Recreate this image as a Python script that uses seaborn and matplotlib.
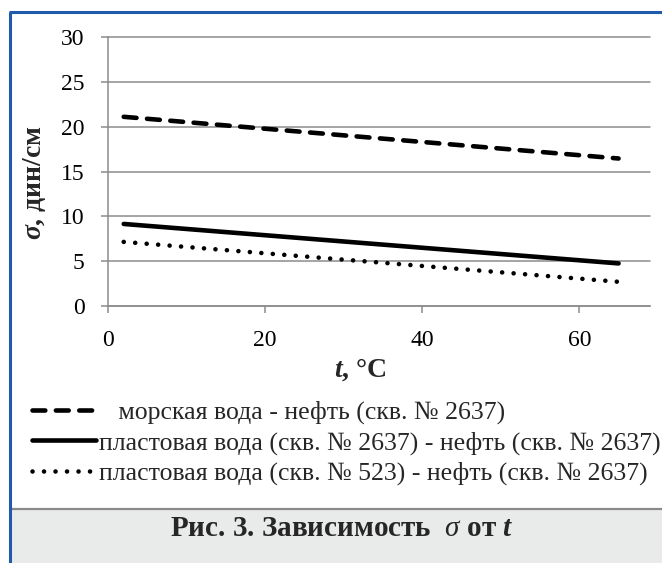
import matplotlib
matplotlib.use("Agg")
import matplotlib.pyplot as plt
import seaborn as sns
import pandas as pd
from matplotlib.lines import Line2D
from matplotlib.patches import Rectangle

# ---- data ----
t_values = [2, 65]
sea_oil = [21.1, 16.45]
form2637_oil = [9.15, 4.75]
form523_oil = [7.15, 2.7]
series_labels = [
    "   морская вода - нефть (скв. № 2637)",
    "пластовая вода (скв. № 2637) - нефть (скв. № 2637)",
    "пластовая вода (скв. № 523) - нефть (скв. № 2637)",
]
x_ticks = [0, 20, 40, 60]
y_ticks = [0, 5, 10, 15, 20, 25, 30]
x_label = r"$\mathbf{t}$, °C"
y_label = r"$\mathbf{\sigma}$, дин/см"
caption = r"Рис. 3. Зависимость  $\mathit{\sigma}$ от $\mathbf{t}$"

sns.set_theme(style="white")
plt.rcParams['font.family'] = ['Liberation Serif', 'DejaVu Serif']
plt.rcParams['mathtext.fontset'] = 'custom'
plt.rcParams['mathtext.rm'] = 'Liberation Serif'
plt.rcParams['mathtext.it'] = 'Liberation Serif:italic'
plt.rcParams['mathtext.bf'] = 'Liberation Serif:bold:italic'

W, H = 662, 563
fig = plt.figure(figsize=(W / 100, H / 100), dpi=100)
fig.patch.set_facecolor('white')

# caption band and blue frame
fig.add_artist(Rectangle((11 / W, 0), 1, 1 - 509 / H, transform=fig.transFigure,
                         facecolor='#E9EBEA', edgecolor='none', zorder=0))
fig.add_artist(Line2D([11 / W, 1], [1 - 509 / H] * 2, transform=fig.transFigure,
                      color='#8a8a8a', lw=1.6, zorder=1))
blue = '#1F5BAA'
fig.add_artist(Line2D([9 / W, 1], [1 - 12 / H] * 2, transform=fig.transFigure,
                      color=blue, lw=2.2, solid_capstyle='butt', zorder=2))
fig.add_artist(Line2D([10 / W] * 2, [0, 1 - 12 / H], transform=fig.transFigure,
                      color=blue, lw=2.2, solid_capstyle='butt', zorder=2))

ax = fig.add_axes([108 / W, 1 - 306 / H, (650 - 108) / W, (306 - 37) / H])
ax.set_facecolor('none')

df = pd.DataFrame({
    't': t_values * 3,
    'sigma': sea_oil + form2637_oil + form523_oil,
    'series': [series_labels[0]] * len(t_values) + [series_labels[1]] * len(t_values)
              + [series_labels[2]] * len(t_values),
})
linestyles = [(0, (2.8, 2.3)), '-', (0, (0.01, 2.5))]
lw = 3.3
for lab, ls in zip(series_labels, linestyles):
    sub = df[df['series'] == lab]
    sns.lineplot(data=sub, x='t', y='sigma', ax=ax, color='black', lw=lw,
                 linestyle=ls, label=lab, dash_capstyle='round',
                 solid_capstyle='round', legend=False)

ax.set_xlim(0, 69)
ax.set_ylim(0, 30)
ax.set_xticks(x_ticks)
ax.set_yticks(y_ticks)
gray = '#8c8c8c'
ax.grid(axis='y', color=gray, lw=1.1)
ax.grid(axis='x', visible=False)
for gl in ax.get_ygridlines():
    gl.set_clip_on(False)
for side in ['top', 'right']:
    ax.spines[side].set_visible(False)
for side in ['left', 'bottom']:
    ax.spines[side].set_color(gray)
    ax.spines[side].set_linewidth(1.1)
ax.tick_params(axis='both', length=5, width=1.1, color=gray, labelsize=17,
               pad=12, labelcolor='black', bottom=True, left=True)

ax.set_xlabel(x_label, fontsize=20, fontweight='bold')
ax.set_ylabel(y_label, fontsize=20, fontweight='bold')
ax.xaxis.set_label_coords((360 - 108) / (650 - 108), -(370 - 306) / (306 - 37))
ax.xaxis.label.set_va('center')
ax.yaxis.set_label_coords((34 - 108) / (650 - 108), (306 - 182) / (306 - 37))
ax.yaxis.label.set_va('center')

handles = ax.get_lines()[:3]
fig.legend(handles, series_labels, loc='upper left',
           bbox_to_anchor=(32 / W, 1 - 401 / H), frameon=False, fontsize=18.5,
           handlelength=2.5, handletextpad=0.12, labelspacing=0.27,
           borderpad=0, borderaxespad=0)

fig.text(342 / W, 1 - 529 / H, caption, fontsize=21, fontweight='bold',
         ha='center', va='center')

fig.savefig('out.png', dpi=100)
